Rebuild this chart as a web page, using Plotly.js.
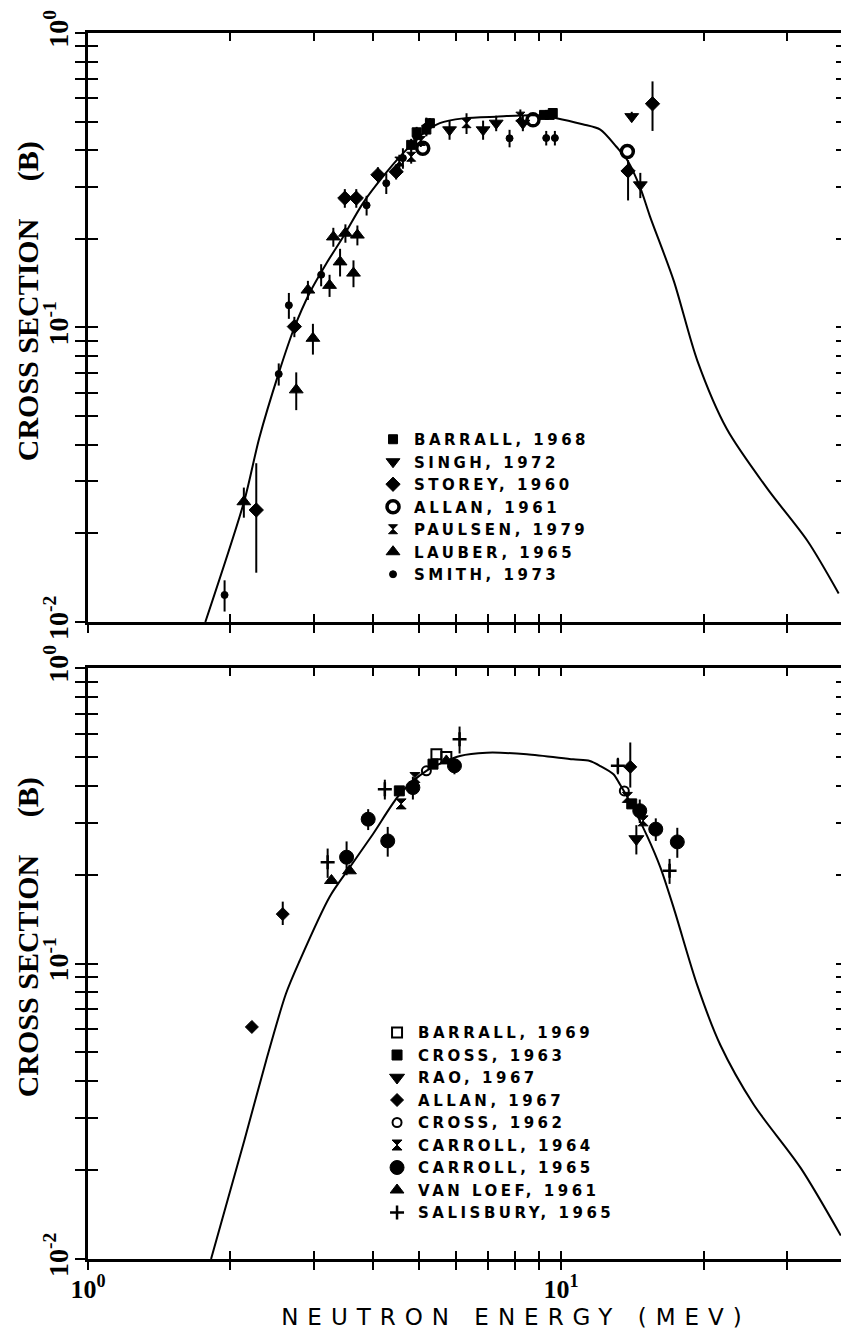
<!DOCTYPE html>
<html>
<head>
<meta charset="utf-8">
<script src="https://cdn.plot.ly/plotly-3.0.1.min.js"></script>
<style>
html, body { margin: 0; padding: 0; overflow: hidden; background: #fff; }
#chart { width: 846px; height: 1333px; }
.legendtext, .infolayer g[class*="legend"] text { letter-spacing: 3.5px !important; }
.g-x2title text { letter-spacing: 9px; }
.g-ytitle, .g-y2title { transform: translateX(8px); }
</style>
</head>
<body>
<div id="chart"></div>
<script>
// ---------- evaluated curves ----------
const curveTopEnergy = [1.77, 2.14, 2.30, 2.53, 2.73, 2.94, 3.19, 3.46, 3.81, 4.20, 4.63, 5.11, 5.54, 6.21, 7.31, 9.03, 11.1, 12.1, 13.1, 13.8, 14.7, 15.4, 17.3, 19.4, 22.4, 27.3, 33.2, 38.6];
const curveTopSigma  = [0.0100, 0.0258, 0.042, 0.070, 0.100, 0.131, 0.165, 0.203, 0.264, 0.325, 0.39, 0.456, 0.494, 0.513, 0.52, 0.525, 0.49, 0.47, 0.41, 0.37, 0.298, 0.239, 0.144, 0.0772, 0.0452, 0.0283, 0.0188, 0.0125];

const curveBottomEnergy = [1.82, 2.14, 2.38, 2.62, 2.80, 3.24, 3.57, 4.00, 4.56, 5.19, 6.11, 6.96, 8.46, 10.6, 11.5, 12.1, 12.9, 13.3, 14.2, 15.2, 16.2, 17.3, 19.4, 21.7, 25.5, 32.1, 39.0];
const curveBottomSigma  = [0.0100, 0.0252, 0.047, 0.079, 0.102, 0.168, 0.211, 0.274, 0.374, 0.449, 0.504, 0.517, 0.511, 0.491, 0.485, 0.466, 0.437, 0.405, 0.337, 0.27, 0.212, 0.154, 0.0843, 0.053, 0.0334, 0.0203, 0.012];

// ---------- top panel measurements ----------
const barrall1968E = [4.82, 4.95, 5.19, 5.28, 9.2, 9.46, 9.6];
const barrall1968S = [0.417, 0.46, 0.47, 0.494, 0.527, 0.527, 0.535];
const barrall1968Err = [0.02, 0.02, 0.02, 0.02, 0.015, 0.015, 0.015];

const singh1972E = [5.81, 6.84, 7.29, 8.3, 14.1, 14.7];
const singh1972S = [0.469, 0.469, 0.494, 0.494, 0.52, 0.305];
const singh1972Err = [0.035, 0.035, 0.03, 0.03, 0.02, 0.03];

const storey1960E = [2.268, 2.73, 3.49, 3.69, 4.10, 4.48, 13.85, 15.6];
const storey1960S = [0.024, 0.1007, 0.275, 0.275, 0.33, 0.338, 0.34, 0.575];
const storey1960ErrPlus  = [0.0106, 0.008, 0.02, 0.02, 0.02, 0.02, 0.03, 0.11];
const storey1960ErrMinus = [0.0093, 0.008, 0.02, 0.02, 0.02, 0.02, 0.07, 0.11];

const allan1961E = [5.10, 8.72, 13.8];
const allan1961S = [0.406, 0.507, 0.396];

const paulsen1979E = [4.55, 4.82, 5.05, 6.31, 8.2];
const paulsen1979S = [0.366, 0.38, 0.43, 0.494, 0.52];
const paulsen1979Err = [0.02, 0.02, 0.02, 0.04, 0.03];

const lauber1965E = [2.135, 2.755, 2.916, 2.988, 3.24, 3.30, 3.41, 3.50, 3.64, 3.71];
const lauber1965S = [0.0256, 0.0614, 0.134, 0.0919, 0.139, 0.203, 0.167, 0.209, 0.153, 0.206];
const lauber1965Err = [0.003, 0.009, 0.01, 0.011, 0.012, 0.015, 0.018, 0.015, 0.016, 0.016];

const smith1973E = [1.944, 2.53, 2.658, 3.11, 3.88, 4.27, 4.63, 4.94, 5.19, 7.78, 9.3, 9.7];
const smith1973S = [0.01235, 0.0695, 0.119, 0.151, 0.26, 0.309, 0.376, 0.444, 0.481, 0.439, 0.44, 0.44];
const smith1973Err = [0.0015, 0.006, 0.012, 0.013, 0.02, 0.025, 0.03, 0.03, 0.035, 0.03, 0.025, 0.025];

// ---------- bottom panel measurements ----------
const barrall1969E = [5.45, 5.72];
const barrall1969S = [0.511, 0.50];

const cross1963E = [4.55, 5.36, 14.1];
const cross1963S = [0.384, 0.473, 0.347];

const rao1967E = [14.42];
const rao1967S = [0.264];
const rao1967Err = [0.03];

const allan1967E = [2.22, 2.58, 14.0];
const allan1967S = [0.061, 0.147, 0.463];
const allan1967ErrPlus  = [0.0, 0.015, 0.097];
const allan1967ErrMinus = [0.0, 0.012, 0.069];

const cross1962E = [5.19, 13.6];
const cross1962S = [0.449, 0.384];

const carroll1964E = [4.59, 4.91, 13.8, 14.9];
const carroll1964S = [0.347, 0.426, 0.365, 0.304];

const carroll1965E = [3.52, 3.91, 4.30, 4.86, 5.95, 14.66, 15.85, 17.6];
const carroll1965S = [0.229, 0.308, 0.26, 0.394, 0.467, 0.329, 0.285, 0.258];
const carroll1965Err = [0.03, 0.025, 0.03, 0.035, 0.03, 0.03, 0.025, 0.03];

const vanLoef1961E = [3.27, 3.57, 5.72];
const vanLoef1961S = [0.191, 0.206, 0.485];

const salisbury1965E = [3.21, 4.24, 6.10, 13.18, 16.95];
const salisbury1965S = [0.22, 0.389, 0.574, 0.467, 0.206];
const salisbury1965Err = [0.025, 0.03, 0.06, 0.03, 0.02];

// ---------- ticks ----------
const xTickVals  = [1, 2, 3, 4, 5, 6, 7, 8, 9, 10, 20, 30, 40];
const xLabelVals = [1, 10];
const xLabelText = ['10<sup>0</sup>', '10<sup>1</sup>'];
const yTickVals  = [0.01, 0.02, 0.03, 0.04, 0.05, 0.06, 0.07, 0.08, 0.09, 0.1, 0.2, 0.3, 0.4, 0.5, 0.6, 0.7, 0.8, 0.9, 1];
const yLabelVals = [0.01, 0.1, 1];
const yLabelText = ['10<sup>-2</sup>', '10<sup>-1</sup>', '10<sup>0</sup>'];

// ---------- build traces ----------
function series(name, xs, ys, panel, symbol, size, opts) {
  opts = opts || {};
  const t = {
    type: 'scatter', mode: 'markers', name: name,
    x: xs, y: ys,
    xaxis: panel === 1 ? 'x' : 'x2',
    yaxis: panel === 1 ? 'y' : 'y2',
    legend: panel === 1 ? 'legend' : 'legend2',
    marker: { symbol: symbol, size: size, color: '#000', line: { color: '#000', width: opts.lw || 1 } },
    hoverinfo: 'x+y+name'
  };
  if (opts.ep) {
    t.error_y = { type: 'data', symmetric: false, array: opts.ep, arrayminus: opts.em || opts.ep,
                  color: '#000', thickness: 2, width: 0 };
  }
  return t;
}

const curveLine = { color: '#000', width: 2, shape: 'spline', smoothing: 0.8 };

const traces = [
  { type: 'scatter', mode: 'lines', x: curveTopEnergy, y: curveTopSigma, xaxis: 'x', yaxis: 'y',
    line: curveLine, showlegend: false, name: 'Evaluation' },
  series('BARRALL, 1968', barrall1968E, barrall1968S, 1, 'square', 9, { ep: barrall1968Err }),
  series('SINGH, 1972', singh1972E, singh1972S, 1, 'triangle-down', 12, { ep: singh1972Err }),
  series('STOREY, 1960', storey1960E, storey1960S, 1, 'diamond', 11, { ep: storey1960ErrPlus, em: storey1960ErrMinus }),
  series('ALLAN, 1961', allan1961E, allan1961S, 1, 'circle-open', 12, { lw: 3.5 }),
  series('PAULSEN, 1979', paulsen1979E, paulsen1979S, 1, 'hourglass', 9, { ep: paulsen1979Err }),
  series('LAUBER, 1965', lauber1965E, lauber1965S, 1, 'triangle-up', 12, { ep: lauber1965Err }),
  series('SMITH, 1973', smith1973E, smith1973S, 1, 'circle', 7, { ep: smith1973Err }),

  { type: 'scatter', mode: 'lines', x: curveBottomEnergy, y: curveBottomSigma, xaxis: 'x2', yaxis: 'y2',
    line: curveLine, showlegend: false, name: 'Evaluation ' },
  series('BARRALL, 1969', barrall1969E, barrall1969S, 2, 'square-open', 10, { lw: 2 }),
  series('CROSS, 1963', cross1963E, cross1963S, 2, 'square', 10),
  series('RAO, 1967', rao1967E, rao1967S, 2, 'triangle-down', 13, { ep: rao1967Err }),
  series('ALLAN, 1967', allan1967E, allan1967S, 2, 'diamond', 10, { ep: allan1967ErrPlus, em: allan1967ErrMinus }),
  series('CROSS, 1962', cross1962E, cross1962S, 2, 'circle-open', 9, { lw: 2 }),
  series('CARROLL, 1964', carroll1964E, carroll1964S, 2, 'hourglass', 10),
  series('CARROLL, 1965', carroll1965E, carroll1965S, 2, 'circle', 14, { ep: carroll1965Err }),
  series('VAN LOEF, 1961', vanLoef1961E, vanLoef1961S, 2, 'triangle-up', 12),
  series('SALISBURY, 1965', salisbury1965E, salisbury1965S, 2, 'cross-thin-open', 10, { ep: salisbury1965Err, lw: 2.5 }),

  // carriers for the inward-tick overlay axes
  { type: 'scatter', mode: 'markers', x: [], y: [], xaxis: 'x3', yaxis: 'y3', showlegend: false, hoverinfo: 'skip' },
  { type: 'scatter', mode: 'markers', x: [], y: [], xaxis: 'x4', yaxis: 'y4', showlegend: false, hoverinfo: 'skip' }
];

// ---------- layout ----------
const xRange = [0, Math.log10(40)];
const yRange = [-2, 0];
const tickFont = { family: 'Liberation Serif, serif', size: 28, color: '#000', weight: 'bold' };
const xTickFont = { family: 'Liberation Serif, serif', size: 26, color: '#000', weight: 'bold' };

function mainAxis(extra) {
  return Object.assign({
    type: 'log', autorange: false, showline: true, linecolor: '#000', linewidth: 3, mirror: true,
    showgrid: false, zeroline: false, ticks: 'outside', tickcolor: '#000', tickwidth: 2,
    tickmode: 'array', tickfont: tickFont
  }, extra);
}
function innerAxis(extra) {
  return Object.assign({
    type: 'log', autorange: false, showline: false, showgrid: false, zeroline: false,
    ticks: 'inside', mirror: 'ticks', tickcolor: '#000', tickwidth: 2, tickmode: 'array',
    showticklabels: false
  }, extra);
}
function minorTicks(vals, len) {
  return { tickmode: 'array', tickvals: vals, ticks: 'outside', ticklen: len, tickwidth: 2, tickcolor: '#000', showgrid: false };
}

const yTitleFont = { family: 'Liberation Serif, serif', size: 30, color: '#000', weight: 'bold' };
const NB = '\u00a0';
const yTitleText = '\u200b' + NB.repeat(7) + 'CROSS SECTION' + NB.repeat(5) + '(B)';
const xTitleText = '\u200b' + NB.repeat(6) + 'NEUTRON ENERGY (MEV)';

const legendBase = {
  bgcolor: 'rgba(0,0,0,0)', borderwidth: 0, itemwidth: 32, xanchor: 'left', yanchor: 'top',
  font: { family: 'DejaVu Sans, sans-serif', size: 15, color: '#000', weight: 'bold' },
  tracegroupgap: 0, itemclick: false, itemdoubleclick: false
};

const layout = {
  width: 846, height: 1333,
  margin: { l: 88, r: 0, t: 33, b: 74, pad: 0 },
  paper_bgcolor: '#fff', plot_bgcolor: '#fff',
  showlegend: true,
  hovermode: 'closest',
  xaxis: mainAxis({ domain: [0, 1], anchor: 'y', range: xRange, tickvals: xLabelVals, ticktext: xLabelText,
                    ticklen: 8, showticklabels: false, minor: minorTicks(xTickVals, 8) }),
  yaxis: mainAxis({ domain: [0.5196, 1], anchor: 'x', range: yRange, tickvals: yLabelVals, ticktext: yLabelText,
                    ticklen: 10, tickangle: -90, ticklabelstandoff: -4, minor: minorTicks(yTickVals, 10),
                    title: { text: yTitleText, font: yTitleFont, standoff: 0 } }),
  xaxis2: mainAxis({ domain: [0, 1], anchor: 'y2', range: xRange, tickvals: xLabelVals, ticktext: xLabelText,
                     tickfont: xTickFont, ticklen: 8, ticklabelstandoff: -3, minor: minorTicks(xTickVals, 8),
                     title: { text: xTitleText,
                              font: { family: 'DejaVu Sans, sans-serif', size: 23, color: '#000' }, standoff: 6 } }),
  yaxis2: mainAxis({ domain: [0, 0.482], anchor: 'x2', range: yRange, tickvals: yLabelVals, ticktext: yLabelText,
                     ticklen: 10, tickangle: -90, ticklabelstandoff: -4, minor: minorTicks(yTickVals, 10),
                     title: { text: yTitleText, font: yTitleFont, standoff: 0 } }),
  xaxis3: innerAxis({ overlaying: 'x', anchor: 'y', range: xRange, tickvals: xTickVals, ticklen: 8 }),
  yaxis3: innerAxis({ overlaying: 'y', anchor: 'x', range: yRange, tickvals: yTickVals, ticklen: 10 }),
  xaxis4: innerAxis({ overlaying: 'x2', anchor: 'y2', range: xRange, tickvals: xTickVals, ticklen: 8 }),
  yaxis4: innerAxis({ overlaying: 'y2', anchor: 'x2', range: yRange, tickvals: yTickVals, ticklen: 10 }),
  legend: Object.assign({}, legendBase, { x: 0.3747, y: 0.6819 }),
  legend2: Object.assign({}, legendBase, { x: 0.3800, y: 0.198 })
};

function fixLegends() {
  document.querySelectorAll('.infolayer g[class*="legend"]').forEach(function (g) {
    g.querySelectorAll('text').forEach(function (el) {
      el.style.letterSpacing = '3.5px';
    });
    g.querySelectorAll('[clip-path]').forEach(function (el) { el.removeAttribute('clip-path'); });
  });
}

Plotly.newPlot('chart', traces, layout, { displayModeBar: false }).then(function () {
  fixLegends();
  setTimeout(fixLegends, 50);
});
</script>
</body>
</html>
